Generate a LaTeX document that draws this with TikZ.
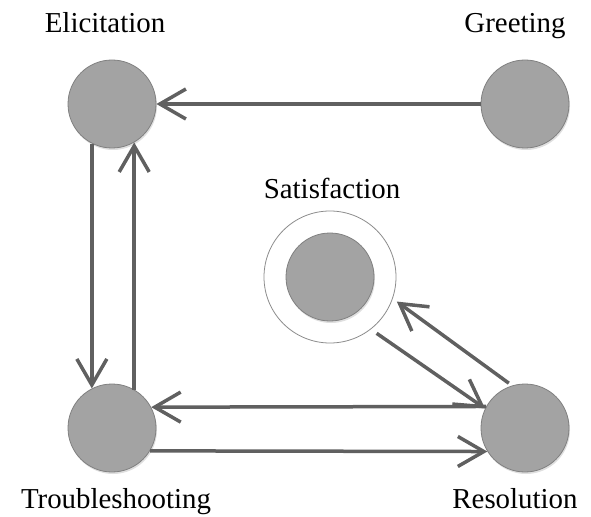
\documentclass[tikz,border=0pt]{standalone}
\usepackage{fontspec}
\setmainfont{Liberation Serif}
\usepackage{xcolor}
\usetikzlibrary{arrows.meta,%
                shadows}

\definecolor{stategray}{RGB}{163,163,163}
\definecolor{edgegray}{RGB}{96,96,96}

\begin{document}
\begin{tikzpicture}[x=1bp, y=-1bp,
    state/.style={circle, draw=black!50, fill=stategray, minimum size=88bp,
      inner sep=0pt, line width=0.8bp,
      drop shadow={opacity=0.25, shadow xshift=1bp, shadow yshift=-2bp}},
    final/.style={circle, draw=black!45, fill=white, minimum size=132bp,
      inner sep=0pt, line width=0.8bp},
    statelabel/.style={anchor=base, font=\fontsize{29}{34}\selectfont},
    trans/.style={draw=edgegray, line width=3.5bp,
      -{Straight Barb[length=26bp,width=30bp]}}]
  \useasboundingbox (0,0) rectangle (591,517);

  % states
  \node[state] (eli) at (112,104) {};
  \node[state] (gre) at (525,104) {};
  \node[state] (tro) at (112,428) {};
  \node[state] (res) at (525,428) {};
  \node[final] (sat) at (330,277) {};
  \node[state] (satin) at (330,277) {};

  % names
  \node[statelabel] (elitext) at (105,33) {Elicitation};
  \node[statelabel] (gretext) at (515,33) {Greeting};
  \node[statelabel] (sattext) at (332,199) {Satisfaction};
  \node[statelabel] (trotext) at (116,508) {Troubleshooting};
  \node[statelabel] (restext) at (515,508) {Resolution};

  % transitions
  \draw[trans] (gre) -- (eli);
  \draw[trans] (eli.-117) -- (tro.117);
  \draw[trans] (tro.60) -- (eli.-60);
  \draw[trans] (res.151.5) -- (tro.28.5);
  \draw[trans] (tro.-31.5) -- (res.-148.5);
  \draw[trans, shorten <=7bp] (sat.-52) -- (res.154);
  \draw[trans, shorten <=4bp, shorten >=5bp] (res.107) -- (sat.-19);
\end{tikzpicture}
\end{document}
